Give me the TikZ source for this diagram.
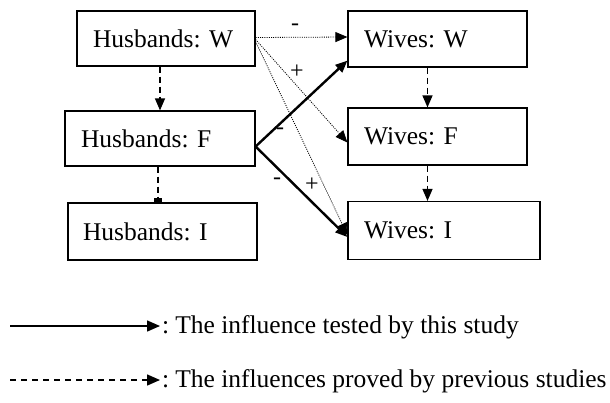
\documentclass[tikz,border=0pt]{standalone}
\usepackage{fontspec}
\setmainfont{Liberation Serif}
\usetikzlibrary{arrows.meta}
\begin{document}
\frenchspacing
\begin{tikzpicture}[x=1pt,y=-1pt,
  box/.style={draw,line width=1.2pt,rectangle,inner sep=0pt,
    font=\fontsize{25.5}{30}\selectfont,align=left},
  dasharrow/.style={line width=1.3pt,dash pattern=on 6pt off 4pt,
    -{Triangle[length=12pt,width=10pt]}},
  teearrow/.style={line width=1.3pt,dash pattern=on 6pt off 4pt,
    -{Rectangle[length=4pt,width=8pt]}},
  dotarrow/.style={line width=0.8pt,dash pattern=on 1pt off 1.2pt,
    -{Triangle[length=12pt,width=10pt]}},
  solidarrow/.style={line width=2.4pt,
    -{Triangle[length=12pt,width=10pt]}},
  sign/.style={font=\fontsize{24}{28}\selectfont,inner sep=0pt},
  legtext/.style={font=\fontsize{25.5}{30}\selectfont,anchor=base west,inner sep=0pt}
]
\useasboundingbox (0,0) rectangle (610,402);
\fill[white] (0,0) rectangle (610,402);

\node[box,minimum width=178pt,minimum height=55pt,text width=146pt] (HW) at (166,38.5) {Husbands: W};
\node[box,minimum width=190pt,minimum height=55pt,text width=158pt] (HF) at (160,138.5) {Husbands: F};
\node[box,minimum width=189pt,minimum height=57pt,text width=159pt] (HI) at (162.5,231.5) {Husbands: I};
\node[box,minimum width=179pt,minimum height=56pt,text width=147pt] (WW) at (437.5,39) {Wives: W};
\node[box,minimum width=179pt,minimum height=57pt,text width=147pt] (WF) at (437.5,136.5) {Wives: F};
\node[box,minimum width=192pt,minimum height=58pt,text width=160pt] (WI) at (444,230.5) {Wives: I};

% vertical dashed arrows
\draw[dasharrow] (HW.south -| HF.north) -- (HF.north);
\draw[teearrow] (HF.south) ++(-2,0) coordinate (hfs) -- (hfs |- HI.north);
\draw[dasharrow] ([xshift=-10pt]WW.south) -- ([xshift=-10pt]WF.north);
\draw[dasharrow] ([xshift=-10pt]WF.south) -- ([xshift=-10pt]WF.south |- WI.north);

% dotted arrows from Husbands: W
\draw[dotarrow] ([yshift=1pt]HW.east) -- ([yshift=2pt]WW.west);
\draw[dotarrow] ([yshift=-1pt]HW.east) -- ([yshift=-6pt]WF.west);
\draw[dotarrow] ([yshift=-3pt]HW.east) -- ([yshift=-4.5pt]WI.west);

% solid arrows from Husbands: F
\coordinate (apex) at ([yshift=-8pt]HF.east);
\draw[solidarrow] (apex) -- ([yshift=7pt]WW.south west);
\draw[solidarrow] (apex) -- ([yshift=-6.5pt]WI.west);

% signs
\node[sign] (s1) at (295,27) {-};
\node[sign] (s2) at (297,72) {+};
\node[sign] (s3) at (280,131) {-};
\node[sign] (s4) at (312,185) {+};
\node[sign] (s5) at (277,181) {-};

% legend
\coordinate (l1s) at (10,326);
\coordinate (l1e) at (160,326);
\coordinate (l2s) at (10,380);
\coordinate (l2e) at (160,380);
\draw[line width=1.5pt,-{Triangle[length=13pt,width=11pt]}] (l1s) -- (l1e);
\draw[line width=1.5pt,dash pattern=on 6pt off 5pt,-{Triangle[length=13pt,width=11pt]}] (l2s) -- (l2e);
\node[legtext] (t1) at (162,333) {:\hspace{6pt}The influence tested by this study};
\node[legtext] (t2) at (162,387) {:\hspace{6pt}The influences proved by previous studies};
\end{tikzpicture}
\end{document}
